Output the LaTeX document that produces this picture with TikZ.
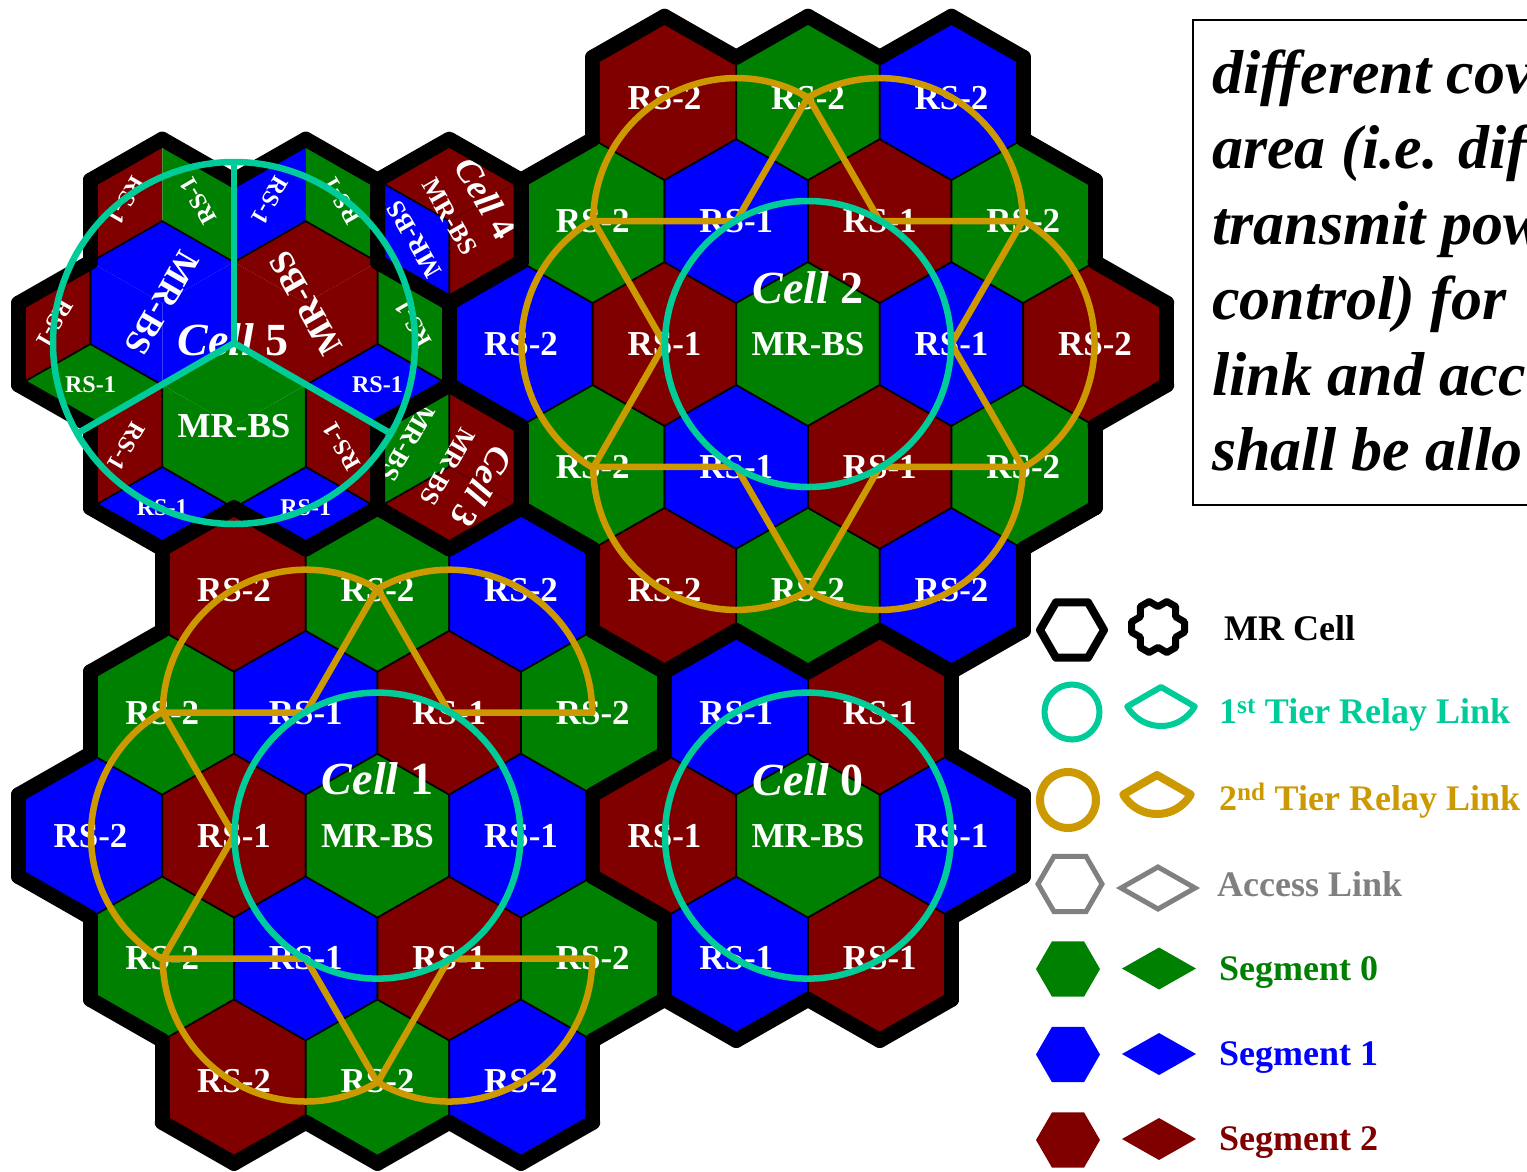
\documentclass[tikz,border=0pt]{standalone}
\usepackage{fontspec}
\setmainfont{Liberation Serif}
\definecolor{sg0}{HTML}{008000}
\definecolor{sg1}{HTML}{0000FF}
\definecolor{sg2}{HTML}{800000}
\definecolor{tealc}{HTML}{00CC99}
\definecolor{goldc}{HTML}{CC9900}
\definecolor{grayc}{HTML}{808080}
\tikzset{
  hexat/.style 2 args={insert path={(#1+71.75,#2-40.965) -- (#1,#2-81.93) -- (#1-71.75,#2-40.965) -- (#1-71.75,#2+40.965) -- (#1,#2+81.93) -- (#1+71.75,#2+40.965) -- cycle}},
  flathex/.style 2 args={insert path={(#1+32,#2) -- (#1+16,#2-27.7) -- (#1-16,#2-27.7) -- (#1-32,#2) -- (#1-16,#2+27.7) -- (#1+16,#2+27.7) -- cycle}},
  flatrh/.style 2 args={insert path={(#1-37,#2) -- (#1,#2-21) -- (#1+37,#2) -- (#1,#2+21) -- cycle}},
  thinline/.style={draw=black, line width=1.6pt, line join=round},
  faint/.style={draw=black!35!sg2, line width=0.7pt},
  cellline/.style={draw=black, line width=15pt, line cap=round, line join=round},
  lbl/.style={text=white, inner sep=0pt, font=\bfseries\fontsize{35}{40}\selectfont},
  smlbl/.style={text=white, inner sep=0pt, font=\bfseries\fontsize{24}{28}\selectfont},
  midlbl/.style={text=white, inner sep=0pt, font=\bfseries\fontsize{26}{30}\selectfont},
  celllbl/.style={text=white, inner sep=0pt, font=\bfseries\fontsize{46}{50}\selectfont},
  smcelllbl/.style={text=white, inner sep=0pt, font=\bfseries\fontsize{36}{40}\selectfont},
  tier1/.style={draw=tealc, line width=6.5pt},
  tier2/.style={draw=goldc, line width=6.5pt, line join=round},
  legtxt/.style={anchor=base west, inner sep=0pt, font=\bfseries\fontsize{36}{40}\selectfont},
  boxtxt/.style={anchor=base west, inner sep=0pt, font=\bfseries\itshape\fontsize{62}{75}\selectfont},
}
\newcommand\fillcell[5]{%
  \foreach \Dq in {-#3,...,#3}{%
    \foreach \Dr in {-#3,...,#3}{%
      \pgfmathtruncatemacro\Dd{(abs(\Dq)+abs(\Dr)+abs(\Dq+\Dr))/2}%
      \pgfmathtruncatemacro\Hq{#1+\Dq}%
      \pgfmathtruncatemacro\Hr{#2+\Dr}%
      \def\Isin{1}%
      \ifnum\Dd>#3\relax\def\Isin{0}\fi
      \ifnum\Hq=#4\relax\ifnum\Hr=#5\relax\def\Isin{0}\fi\fi
      \ifnum\Isin=1\relax
        \pgfmathsetmacro\Cx{808+143.5*(\Hq+\Hr/2)}%
        \pgfmathsetmacro\Cy{344+122.9*\Hr}%
        \pgfmathtruncatemacro\Ci{mod(\Hq-\Hr+300,3)}%
        \ifcase\Ci\relax\def\Col{sg0}\or\def\Col{sg1}\or\def\Col{sg2}\fi
        \path[fill=\Col, thinline, hexat={\Cx}{\Cy}];
        \node[lbl] (h\Hq x\Hr) at (\Cx,\Cy) {\ifcase\Dd\relax MR-BS\or RS-1\or RS-2\fi};
      \fi
    }%
  }%
}
\newcommand\bordercell[5]{%
  \foreach \Dq in {-#3,...,#3}{%
    \foreach \Dr in {-#3,...,#3}{%
      \pgfmathtruncatemacro\Dd{(abs(\Dq)+abs(\Dr)+abs(\Dq+\Dr))/2}%
      \pgfmathtruncatemacro\Hq{#1+\Dq}%
      \pgfmathtruncatemacro\Hr{#2+\Dr}%
      \def\Isin{1}%
      \ifnum\Dd>#3\relax\def\Isin{0}\fi
      \ifnum\Hq=#4\relax\ifnum\Hr=#5\relax\def\Isin{0}\fi\fi
      \ifnum\Isin=1\relax
        \pgfmathsetmacro\Cx{808+143.5*(\Hq+\Hr/2)}%
        \pgfmathsetmacro\Cy{344+122.9*\Hr}%
        \foreach \Nq/\Nr/\Ka in {1/-1/0,0/-1/1,-1/0/2,-1/1/3,0/1/4,1/0/5}{%
          \pgfmathtruncatemacro\Mq{\Dq+\Nq}%
          \pgfmathtruncatemacro\Mr{\Dr+\Nr}%
          \pgfmathtruncatemacro\Md{(abs(\Mq)+abs(\Mr)+abs(\Mq+\Mr))/2}%
          \pgfmathtruncatemacro\Aq{#1+\Mq}%
          \pgfmathtruncatemacro\Ar{#2+\Mr}%
          \def\Out{0}%
          \ifnum\Md>#3\relax\def\Out{1}\fi
          \ifnum\Aq=#4\relax\ifnum\Ar=#5\relax\def\Out{1}\fi\fi
          \ifnum\Out=1\relax
            \draw[cellline] ({\Cx+82.85*cos(30+60*\Ka)},{\Cy-81.93*sin(30+60*\Ka)}) -- ({\Cx+82.85*cos(90+60*\Ka)},{\Cy-81.93*sin(90+60*\Ka)});
          \fi
        }%
      \fi
    }%
  }%
}
% rhombi of a pointy hex: A = C,V1,V2,V3 ; B = C,V3,V4,V5 ; D = C,V5,V0,V1
\newcommand\rhA[4]{\path[fill=#3,#4,shift={(#1,#2)}] (0,0) -- (0,-81.93) -- (-71.75,-40.965) -- (-71.75,40.965) -- cycle;}
\newcommand\rhB[4]{\path[fill=#3,#4,shift={(#1,#2)}] (0,0) -- (-71.75,40.965) -- (0,81.93) -- (71.75,40.965) -- cycle;}
\newcommand\rhD[4]{\path[fill=#3,#4,shift={(#1,#2)}] (0,0) -- (71.75,40.965) -- (71.75,-40.965) -- (0,-81.93) -- cycle;}
\newcommand\slice[3]{\draw[tier2] (#1,#2) -- ++({-(#3-60)}:143) arc[start angle={-(#3-60)}, end angle={-(#3+60)}, radius=143] -- cycle;}
\begin{document}
\begin{tikzpicture}[x=1pt,y=-1pt]
\useasboundingbox (0,0) rectangle (1527,1171);
% ---------- regular cells ----------
\fillcell{0}{0}{2}{99}{99}
\fillcell{-2}{4}{1}{99}{99}
\fillcell{-5}{4}{2}{-3}{4}
% ---------- cell 5 (three sectors) ----------
\rhA{234}{344}{sg1}{} \rhB{234}{344}{sg0}{} \rhD{234}{344}{sg2}{}
\rhA{162.25}{221.1}{sg2}{} \rhD{162.25}{221.1}{sg0}{} \rhB{162.25}{221.1}{sg1}{}
\rhA{305.75}{221.1}{sg1}{} \rhD{305.75}{221.1}{sg0}{} \rhB{305.75}{221.1}{sg2}{}
\rhA{90.5}{344}{sg2}{thinline} \rhB{90.5}{344}{sg0}{thinline} \rhD{90.5}{344}{sg1}{}
\rhD{377.5}{344}{sg0}{thinline} \rhB{377.5}{344}{sg1}{thinline} \rhA{377.5}{344}{sg2}{}
\rhA{162.25}{466.9}{sg2}{thinline} \rhB{162.25}{466.9}{sg1}{thinline} \rhD{162.25}{466.9}{sg0}{}
\rhD{305.75}{466.9}{sg2}{thinline} \rhB{305.75}{466.9}{sg1}{thinline} \rhA{305.75}{466.9}{sg0}{}
\path[thinline, hexat={162.25}{303.035}];
\path[thinline, hexat={305.75}{303.035}];
\path[thinline, hexat={234}{425.93}];
% ---------- cell 4 and cell 3 ----------
\path[fill=sg2, hexat={449.25}{221.1}];
\path[fill=sg1, thinline, shift={(449.25,221.1)}] (0,0) -- (-71.75,-40.965) -- (-71.75,40.965) -- (0,81.93) -- cycle;
\draw[faint, shift={(449.25,221.1)}] (0,0) -- (71.75,-40.965);
\path[fill=sg2, hexat={449.25}{466.9}];
\rhA{449.25}{466.9}{sg0}{thinline}
\draw[faint, shift={(449.25,466.9)}] (0,0) -- (71.75,40.965);
% ---------- labels of cells 5, 4, 3 ----------
\node[lbl, rotate=-120] (mb5b) at (162.25,303) {MR-BS};
\node[lbl, rotate=120] (mb5r) at (305.75,303) {MR-BS};
\node[lbl] (mb5g) at (234,425.9) {MR-BS};
\node[smlbl, rotate=-120] (r5a) at (126.4,200.6) {RS-1};
\node[smlbl, rotate=120] (r5b) at (198.1,200.6) {RS-1};
\node[smlbl, rotate=-120] (r5c) at (269.9,200.6) {RS-1};
\node[smlbl, rotate=120] (r5d) at (341.6,200.6) {RS-1};
\node[smlbl, rotate=-120] (r5e) at (54.6,323.5) {RS-1};
\node[smlbl] (r5f) at (90.5,385) {RS-1};
\node[smlbl, rotate=120] (r5g) at (413.4,323.5) {RS-1};
\node[smlbl] (r5h) at (377.5,385) {RS-1};
\node[smlbl, rotate=-120] (r5i) at (126.4,446.4) {RS-1};
\node[smlbl] (r5j) at (162.25,507.9) {RS-1};
\node[smlbl, rotate=120] (r5k) at (341.6,446.4) {RS-1};
\node[smlbl] (r5l) at (305.75,507.9) {RS-1};
\node[celllbl] (cell5) at (233,340) {\textit{Cell} 5};
\node[smcelllbl, rotate=-60] (cell4) at (486,198) {\textit{Cell} 4};
\node[midlbl, rotate=-60] (mb4r) at (450,217) {MR-BS};
\node[midlbl, rotate=120] (mb4b) at (414,239) {MR-BS};
\node[smcelllbl, rotate=-120] (cell3) at (482,487) {\textit{Cell} 3};
\node[midlbl, rotate=-120] (mb3r) at (448,467) {MR-BS};
\node[midlbl, rotate=-120] (mb3g) at (408,443) {MR-BS};
\node[celllbl] (cell2) at (808,288) {\textit{Cell} 2};
\node[celllbl] (cell1) at (377.5,779) {\textit{Cell} 1};
\node[celllbl] (cell0) at (808,780) {\textit{Cell} 0};
% ---------- thick cell outlines ----------
\bordercell{0}{0}{2}{99}{99}
\bordercell{-2}{4}{1}{99}{99}
\bordercell{-5}{4}{2}{-3}{4}
\bordercell{-4}{0}{1}{99}{99}
\path[cellline, hexat={449.25}{221.1}];
\path[cellline, hexat={449.25}{466.9}];
% ---------- 2nd tier relay links ----------
\slice{951.5}{344}{0}
\slice{879.75}{221.1}{60}
\slice{736.25}{221.1}{120}
\slice{664.5}{344}{180}
\slice{736.25}{466.9}{240}
\slice{879.75}{466.9}{300}
\slice{449.25}{712.7}{60}
\slice{305.75}{712.7}{120}
\slice{234}{835.6}{180}
\slice{305.75}{958.5}{240}
\slice{449.25}{958.5}{300}
% ---------- 1st tier relay links ----------
\draw[tier1] (808,344) circle[radius=143];
\draw[tier1] (808,835.6) circle[radius=143];
\draw[tier1] (377.5,835.6) circle[radius=143];
\coordinate (c5) at (234,343);
\draw[tier1] (c5) circle[radius=181];
\draw[tier1] (c5) -- ++(-90:181);
\draw[tier1] (c5) -- ++(-210:181);
\draw[tier1] (c5) -- ++(-330:181);
% ---------- legend ----------
\path[draw=black, line width=8pt, line join=round, flathex={1072}{630}];
\draw[line width=7pt, line join=round, shift={(1158,627)}] (17.67,-10.2) -- (26.5,-5.1) -- (26.5,5.1) -- (17.67,10.2) -- (17.67,20.4) -- (8.835,25.5) -- (0,20.4) -- (-8.835,25.5) -- (-17.67,20.4) -- (-17.67,10.2) -- (-26.5,5.1) -- (-26.5,-5.1) -- (-17.67,-10.2) -- (-17.67,-20.4) -- (-8.835,-25.5) -- (0,-20.4) -- (8.835,-25.5) -- (17.67,-20.4) -- cycle;
\draw[tealc, line width=6pt] (1072,712) circle[radius=27.5];
\draw[tealc, line width=6pt, line join=round] (1161,687) -- ++(-210:39) arc[start angle=-210, end angle=-330, radius=39] -- cycle;
\draw[goldc, line width=8pt] (1068,800) circle[radius=28];
\draw[goldc, line width=8pt, line join=round] (1157,775) -- ++(-210:39) arc[start angle=-210, end angle=-330, radius=39] -- cycle;
\path[draw=grayc, line width=5pt, flathex={1070}{884}];
\path[draw=grayc, line width=5pt, flatrh={1158}{888}];
\path[fill=sg0, flathex={1068}{969}];
\path[fill=sg0, flatrh={1159}{968.5}];
\path[fill=sg1, flathex={1068}{1054.5}];
\path[fill=sg1, flatrh={1159}{1054}];
\path[fill=sg2, flathex={1068}{1140}];
\path[fill=sg2, flatrh={1159}{1139}];
\node[legtxt] (lg1) at (1224,640) {MR Cell};
\node[legtxt, text=tealc] (lg2) at (1219,723) {1\textsuperscript{st} Tier Relay Link};
\node[legtxt, text=goldc] (lg3) at (1219,810) {2\textsuperscript{nd} Tier Relay Link};
\node[legtxt, text=grayc] (lg4) at (1217,896) {Access Link};
\node[legtxt, text=sg0] (lg5) at (1219,980) {Segment 0};
\node[legtxt, text=sg1] (lg6) at (1219,1065) {Segment 1};
\node[legtxt, text=sg2] (lg7) at (1219,1150) {Segment 2};
% ---------- text box ----------
\draw[line width=2pt] (1193,20) rectangle (1600,505);
\node[boxtxt] (tb1) at (1212,93) {different cov};
\node[boxtxt] (tb2) at (1212,168.5) {area (i.e. dif};
\node[boxtxt] (tb3) at (1212,244) {transmit pow};
\node[boxtxt] (tb4) at (1212,319.5) {control) for};
\node[boxtxt] (tb5) at (1212,395) {link and acc};
\node[boxtxt] (tb6) at (1212,470.5) {shall be allo};
\end{tikzpicture}
\end{document}
